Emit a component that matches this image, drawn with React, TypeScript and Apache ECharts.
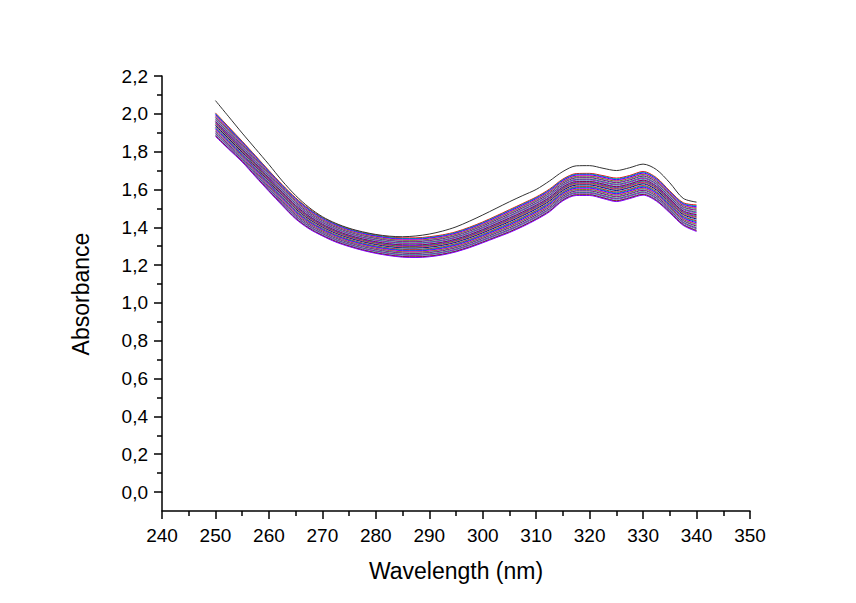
import React, { useEffect, useRef } from "react";
import * as echarts from "echarts";

// Wavelength grid (nm)
const wavelengths = [
  250, 252.5, 255, 257.5, 260, 262.5, 265, 267.5, 270, 272.5, 275, 277.5, 280, 282.5, 285, 287.5,
  290, 292.5, 295, 297.5, 300, 302.5, 305, 307.5, 310, 312.5, 315, 317.5, 320, 322.5, 325, 327.5,
  330, 332.5, 335, 337.5, 340,
];

// Uppermost (black) spectrum
const blackSpectrum = [
  2.07, 1.984, 1.898, 1.815, 1.732, 1.645, 1.568, 1.505, 1.456, 1.421, 1.395, 1.376, 1.362, 1.353, 1.35, 1.354,
  1.364, 1.38, 1.402, 1.432, 1.465, 1.5, 1.535, 1.568, 1.6, 1.645, 1.695, 1.725, 1.726, 1.712, 1.7, 1.715,
  1.734, 1.705, 1.635, 1.553, 1.533,
];

// Upper edge of the bundle of coloured spectra
const bundleUpper = [
  2.005, 1.93, 1.855, 1.778, 1.7, 1.625, 1.556, 1.498, 1.452, 1.418, 1.392, 1.373, 1.359, 1.349, 1.344, 1.344,
  1.35, 1.36, 1.376, 1.4, 1.428, 1.46, 1.493, 1.526, 1.56, 1.602, 1.655, 1.684, 1.685, 1.673, 1.66, 1.674,
  1.695, 1.662, 1.592, 1.53, 1.518,
];

// Lower edge of the bundle of coloured spectra
const bundleLower = [
  1.88, 1.812, 1.745, 1.667, 1.59, 1.515, 1.444, 1.392, 1.354, 1.322, 1.298, 1.278, 1.262, 1.25, 1.242, 1.24,
  1.244, 1.254, 1.27, 1.292, 1.318, 1.345, 1.372, 1.404, 1.44, 1.482, 1.54, 1.568, 1.568, 1.552, 1.536, 1.552,
  1.57, 1.538, 1.476, 1.41, 1.378,
];

// Relative position of each coloured spectrum inside the bundle (0 = upper edge, 1 = lower edge)
const spectrumLevels = [
  0, 0.03, 0.07, 0.1, 0.13, 0.17, 0.2, 0.24, 0.27, 0.3, 0.34, 0.37, 0.4, 0.44, 0.47, 0.5,
  0.53, 0.57, 0.6, 0.63, 0.67, 0.7, 0.73, 0.77, 0.8, 0.84, 0.87, 0.9, 0.94, 0.97, 1.0,
];

const palette = [
  "#FF0000", "#00A0A0", "#0000FF", "#FF00FF", "#808000", "#6080C0", "#800080", "#A0A0A0",
  "#008080", "#C000C0", "#40C0C0", "#800000", "#8000FF", "#00A000", "#FF0080", "#808080",
  "#000080", "#60B0D0",
];

const xTicks = { min: 240, max: 350, interval: 10 };
const yTicks = { min: 0, max: 2.2, interval: 0.2 };

const FONT = "'Liberation Sans', Arial, sans-serif";

export default function App() {
  const ref = useRef<HTMLDivElement>(null);

  useEffect(() => {
    if (!ref.current) return;
    const chart = echarts.init(ref.current, undefined, { renderer: "svg" });

    const series: any[] = [];
    spectrumLevels.forEach((f, i) => {
      const c = palette[i % palette.length];
      series.push({
        type: "line",
        name: "S" + (i + 2),
        data: wavelengths.map((w, k) => [w, bundleUpper[k] - f * (bundleUpper[k] - bundleLower[k])]),
        showSymbol: false,
        smooth: 0.3,
        lineStyle: { width: 1, color: c },
        itemStyle: { color: c },
      });
    });
    series.push({
      type: "line",
      name: "S1",
      data: wavelengths.map((w, k) => [w, blackSpectrum[k]]),
      showSymbol: false,
      smooth: 0.3,
      lineStyle: { width: 1, color: "#333333" },
      itemStyle: { color: "#333333" },
    });

    const axisLine = { show: true, onZero: false, lineStyle: { color: "#000", width: 1.5 } };
    const tick = { show: true, inside: false, length: 8, lineStyle: { color: "#000", width: 1.5 } };
    const minor = { show: true, splitNumber: 2, length: 5, lineStyle: { color: "#000", width: 1.5 } };

    chart.setOption({
      animation: false,
      backgroundColor: "#ffffff",
      grid: { left: 162, right: 106, top: 76, bottom: 111, containLabel: false },
      xAxis: {
        type: "value",
        min: xTicks.min,
        max: xTicks.max,
        interval: xTicks.interval,
        offset: 19,
        axisLine,
        axisTick: tick,
        minorTick: minor,
        splitLine: { show: false },
        axisLabel: { fontSize: 19, color: "#000", margin: 15, fontFamily: FONT },
        name: "Wavelength (nm)",
        nameLocation: "middle",
        nameGap: 48,
        nameTextStyle: { fontSize: 23, color: "#000", fontFamily: FONT },
      },
      yAxis: {
        type: "value",
        min: yTicks.min,
        max: yTicks.max,
        interval: yTicks.interval,
        axisLine,
        axisTick: tick,
        minorTick: minor,
        splitLine: { show: false },
        axisLabel: {
          fontSize: 19,
          color: "#000",
          margin: 14,
          fontFamily: FONT,
          formatter: (v: number) => v.toFixed(1).replace(".", ","),
        },
        name: "Absorbance",
        nameLocation: "middle",
        nameGap: 70,
        nameTextStyle: { fontSize: 23, color: "#000", fontFamily: FONT, padding: [0, 20, 0, 0] },
      },
      graphic: [
        {
          type: "line",
          shape: { x1: 162, y1: 492, x2: 162, y2: 511 },
          style: { stroke: "#000", lineWidth: 1.5 },
          silent: true,
        },
      ],
      series,
    });

    return () => chart.dispose();
  }, []);

  return (
    <div
      ref={ref}
      style={{ position: "absolute", left: 0, top: 0, width: 856, height: 603, background: "#fff" }}
    />
  );
}
